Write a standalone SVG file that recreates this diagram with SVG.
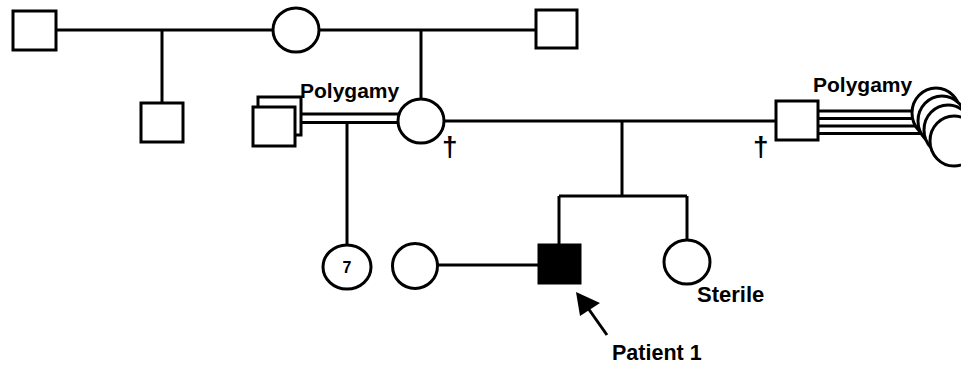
<svg xmlns="http://www.w3.org/2000/svg" width="961" height="365" viewBox="0 0 961 365">
<style>
.s{fill:#fff;stroke:#000;stroke-width:3}
.f{fill:#000;stroke:#000;stroke-width:3}
.l{stroke:#000;stroke-width:3;fill:none}
.t{font-family:"Liberation Sans",Arial,sans-serif;font-weight:bold;font-size:21px;fill:#000}
.d{font-family:"Liberation Sans",Arial,sans-serif;font-weight:bold;font-size:28px;fill:#000}
</style>
<rect width="961" height="365" fill="#fff"/>
<g id="connectors">
<line class="l" x1="56" y1="30" x2="273" y2="30"/>
<line class="l" x1="318" y1="30" x2="536" y2="30"/>
<line class="l" x1="162" y1="30" x2="162" y2="103"/>
<line class="l" x1="421" y1="30" x2="421" y2="99"/>
<line class="l" x1="301" y1="114" x2="399" y2="114"/>
<line class="l" x1="301" y1="122.5" x2="399" y2="122.5"/>
<line class="l" x1="347" y1="122.5" x2="347" y2="246"/>
<line class="l" x1="444" y1="121" x2="776" y2="121"/>
<line class="l" x1="622" y1="121" x2="622" y2="196"/>
<line class="l" x1="559" y1="196" x2="687" y2="196"/>
<line class="l" x1="559" y1="196" x2="559" y2="245"/>
<line class="l" x1="687" y1="196" x2="687" y2="241"/>
<line class="l" x1="437" y1="265" x2="539" y2="265"/>
<line class="l" x1="818" y1="111" x2="940" y2="111"/>
<line class="l" x1="818" y1="118.5" x2="940" y2="118.5"/>
<line class="l" x1="818" y1="126" x2="940" y2="126"/>
<line class="l" x1="818" y1="133.5" x2="940" y2="133.5"/>
<line class="l" x1="607" y1="335" x2="583" y2="301"/>
<polygon points="576,292 600,303 580,316" fill="#000"/>
</g>
<g id="n-gf1"><rect class="s" x="13" y="11" width="43" height="39"/></g>
<g id="n-gm"><ellipse class="s" cx="296" cy="30" rx="23" ry="22"/></g>
<g id="n-gf2"><rect class="s" x="536" y="10" width="41" height="38"/></g>
<g id="n-uncle"><rect class="s" x="141" y="103" width="42" height="39"/></g>
<g id="n-polyhusbands">
<rect class="s" x="258" y="97" width="43" height="38"/>
<rect class="s" x="253" y="107" width="42" height="39"/>
<text class="t" x="300" y="98">Polygamy</text>
</g>
<g id="n-mother">
<ellipse class="s" cx="421" cy="121" rx="23" ry="22"/>
<text class="d" x="442" y="156">†</text>
</g>
<g id="n-father">
<rect class="s" x="776" y="101" width="42" height="39"/>
<text class="d" x="753" y="156">†</text>
<text class="t" x="813" y="92">Polygamy</text>
</g>
<g id="n-wives">
<ellipse class="s" cx="936" cy="113" rx="24" ry="25"/>
<ellipse class="s" cx="942" cy="121" rx="24" ry="25"/>
<ellipse class="s" cx="948" cy="130" rx="24" ry="25"/>
<ellipse class="s" cx="954" cy="141" rx="24" ry="25"/>
</g>
<g id="n-halfsibs">
<ellipse class="s" cx="347" cy="267" rx="24" ry="22"/>
<text class="t" x="347" y="273" text-anchor="middle" style="font-size:16px">7</text>
</g>
<g id="n-wife"><ellipse class="s" cx="415" cy="266" rx="22.5" ry="22.5"/></g>
<g id="n-patient">
<rect class="f" x="539" y="245" width="41" height="38"/>
<text class="t" x="612" y="360" style="font-size:21.5px">Patient 1</text>
</g>
<g id="n-sister">
<ellipse class="s" cx="687" cy="262" rx="23" ry="22"/>
<text class="t" x="697" y="302" style="font-size:22px">Sterile</text>
</g>
</svg>
